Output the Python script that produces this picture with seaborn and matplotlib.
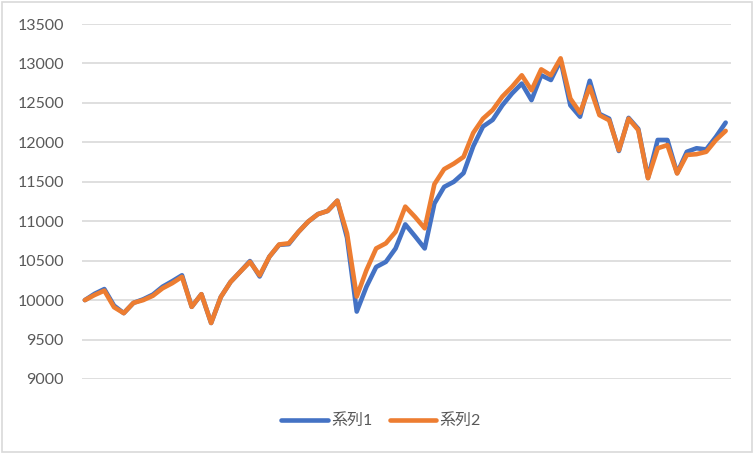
import numpy as np
import pandas as pd
import seaborn as sns
import matplotlib.pyplot as plt
from matplotlib.patches import Rectangle

# Values (67 monthly points)
series1 = [
    10000, 10080, 10140, 9930, 9835, 9965, 10010, 10070, 10170, 10240,
    10315, 9915, 10075, 9710, 10040, 10230, 10360, 10495, 10300, 10550,
    10700, 10710, 10865, 10995, 11090, 11130, 11260, 10790, 9855, 10170,
    10420, 10485, 10655, 10960, 10810, 10655, 11225, 11435, 11500, 11610,
    11950, 12200, 12285, 12470, 12620, 12745, 12535, 12850, 12790, 13040,
    12470, 12325, 12780, 12360, 12300, 11890, 12310, 12170, 11550, 12030,
    12030, 11610, 11880, 11925, 11910, 12070, 12250,
]
series2 = [
    10000, 10065, 10120, 9910, 9835, 9965, 10000, 10055, 10150, 10215,
    10295, 9915, 10075, 9710, 10040, 10230, 10360, 10485, 10315, 10550,
    10705, 10720, 10865, 10995, 11090, 11130, 11260, 10845, 10045, 10380,
    10655, 10720, 10865, 11185, 11055, 10910, 11470, 11660, 11730, 11815,
    12120, 12300, 12410, 12580, 12705, 12850, 12660, 12925, 12850, 13065,
    12555, 12375, 12705, 12345, 12280, 11900, 12300, 12155, 11545, 11925,
    11965, 11605, 11840, 11850, 11880, 12030, 12145,
]
series_names = ['系列1', '系列2']
y_ticks = list(range(9000, 14000, 500))

df = pd.DataFrame({
    'idx': list(range(len(series1))) * 2,
    'value': series1 + series2,
    'series': [series_names[0]] * len(series1) + [series_names[1]] * len(series2),
})

sns.set_style('white')
plt.rcParams['font.family'] = ['Lato', 'Noto Sans CJK JP', 'DejaVu Sans']

fig = plt.figure(figsize=(7.54, 4.54), dpi=100)
ax = fig.add_axes([82 / 754, 1 - 379 / 454, (731 - 82) / 754, (379 - 24) / 454])

palette = {'系列1': '#4472C4', '系列2': '#ED7D31'}
sns.lineplot(data=df, x='idx', y='value', hue='series', palette=palette,
             linewidth=3.3, ax=ax, legend=False)
for line in ax.get_lines():
    line.set_solid_joinstyle('round')
    line.set_solid_capstyle('round')

ax.set_xlim(-0.3, 66.55)
ax.set_ylim(9000, 13500)
ax.set_yticks(y_ticks)
ax.set_xticks([])
ax.set_xlabel('')
ax.set_ylabel('')
ax.yaxis.grid(True, color='#d9d9d9', linewidth=1.2)
ax.set_axisbelow(True)
ax.tick_params(axis='y', length=0, pad=13, labelsize=11.5, labelcolor='#595959')
for s in ax.spines.values():
    s.set_visible(False)

handles = [plt.Line2D([], [], color=palette[n], linewidth=3.3, solid_capstyle='round')
           for n in series_names]
fig.legend(handles, series_names, loc='center', bbox_to_anchor=(381 / 754, 1 - 421 / 454),
           ncol=2, frameon=False, fontsize=11.5, labelcolor='#595959',
           handlelength=2.9, handletextpad=0.2, columnspacing=1.1)

fig.add_artist(Rectangle((0.003, 0.004), 0.994, 0.992, transform=fig.transFigure,
                         fill=False, edgecolor='#d9d9d9', linewidth=1.2))

fig.savefig('out.png', dpi=100)
